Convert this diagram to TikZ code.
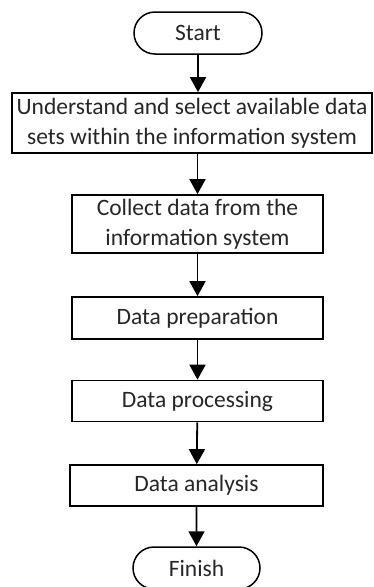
\documentclass[tikz,border=0pt]{standalone}
\usepackage{fontspec}
\setmainfont{Carlito}
\usepackage{tikz}
\usetikzlibrary{arrows.meta,shapes.misc}
\tikzset{
  fcterm/.style={rounded rectangle,draw,line width=1.5pt,minimum width=128pt,minimum height=42pt,inner sep=0pt},
  fcstep/.style={rectangle,draw,line width=1.7pt,minimum width=251pt,inner sep=0pt,align=center},
  fcarrow/.style={-{Triangle[width=16pt,length=15pt]},line width=1.8pt}
}

\begin{document}
\begin{tikzpicture}[x=1pt,y=-1pt,font=\fontsize{23.5}{30}\selectfont,text=black!85]
  \useasboundingbox (0,0) rectangle (374,587);
  \node[fcterm] (start) at (198,33) {Start};
  \node[fcstep,minimum width=360pt,minimum height=60pt] (sel) at (192,123) {Understand and select available data\\sets within the information system};
  \node[fcstep,minimum height=58pt] (coll) at (197.5,224) {Collect data from the\\information system};
  \node[fcstep,minimum height=42pt] (prep) at (197.5,318) {Data preparation};
  \node[fcstep,minimum height=41pt] (proc) at (197.5,401) {Data processing};
  \node[fcstep,minimum width=253pt,minimum height=41pt] (anal) at (196.5,485.5) {Data analysis};
  \node[fcterm,minimum width=127pt] (fin) at (196.5,568) {Finish};
  \draw[fcarrow] (start) -- (start |- sel.north);
  \draw[fcarrow] (sel.south -| coll) -- (coll);
  \draw[fcarrow] (coll) -- (prep);
  \draw[fcarrow] (prep) -- (proc);
  \draw[fcarrow] (proc) -- (anal);
  \draw[fcarrow] (anal) -- (fin);
\end{tikzpicture}
\end{document}
